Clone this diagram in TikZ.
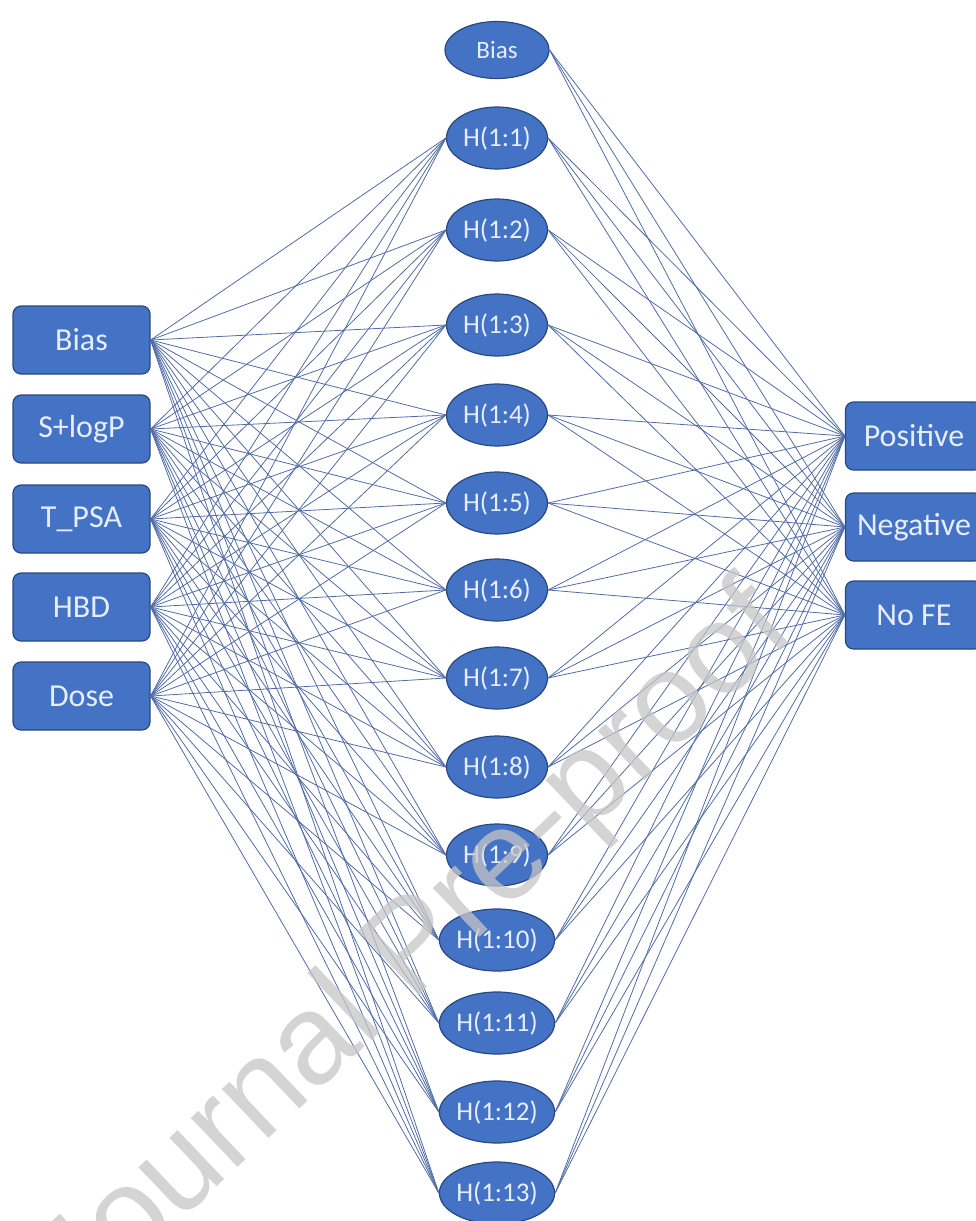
\documentclass[tikz,border=0pt]{standalone}
\usepackage{fontspec}
\setmainfont{Carlito}
\newfontfamily\markfont{Liberation Sans}
\usetikzlibrary{shapes.geometric}
\definecolor{nodeblue}{RGB}{68,114,196}
\definecolor{nodeedge}{RGB}{40,72,130}
\definecolor{linkblue}{RGB}{82,108,165}
\definecolor{labeltext}{RGB}{230,238,252}
\newcommand{\figuresize}{1pt}
\tikzset{
	inbox/.style={rectangle, rounded corners=8pt, fill=nodeblue, draw=nodeedge, line width=1.2pt,
		minimum width=137pt, minimum height=68pt, inner sep=0pt, text=labeltext,
		font=\fontsize{32}{32}\selectfont},
	hidnode/.style={ellipse, fill=nodeblue, draw=nodeedge, line width=1.2pt,
		minimum width=101pt, minimum height=62pt, inner sep=0pt, text=labeltext,
		font=\fontsize{27}{27}\selectfont},
	link/.style={draw=linkblue, line width=0.8pt},
	watermark/.style={text=gray!45, opacity=0.75, rotate=43.6, anchor=base,
		font=\markfont\fontsize{128}{128}\selectfont}
}

\begin{document}
\begin{tikzpicture}[x=\figuresize,y=-\figuresize]
	\useasboundingbox (0,0) rectangle (976,1221);

	% input layer
	\foreach \i/\y/\name in {0/340/Bias,1/429/S+logP,2/519/T\_PSA,3/607/HBD,4/696/Dose}
		\node[inbox] (I\i) at (81.5,\y) {\name};

	% hidden layer
	\node[hidnode, minimum width=104pt, minimum height=57pt, font=\fontsize{25}{25}\selectfont] (H0) at (497,50) {Bias};
	\foreach \k/\y in {1/138,2/230,3/325,4/415,5/503,6/590,7/678,8/767,9/855,10/940,11/1023,12/1112,13/1193}
		\node[hidnode] (H\k) at (497,\y) {H(1:\k)};

	% output layer
	\foreach \j/\y/\name in {1/436/Positive,2/527/Negative,3/615/No FE}
		\node[inbox] (O\j) at (914,\y) {\name};

	\foreach \i in {0,...,4}
		\foreach \k in {1,...,13}
			\draw[link] (I\i.east) -- (H\k.west);
	\foreach \k in {0,...,13}
		\foreach \j in {1,2,3}
			\draw[link] (H\k.east) -- (O\j.west);

	\node[watermark] (mark) at (440,975) {Journal Pre-proof};
\end{tikzpicture}
\end{document}
